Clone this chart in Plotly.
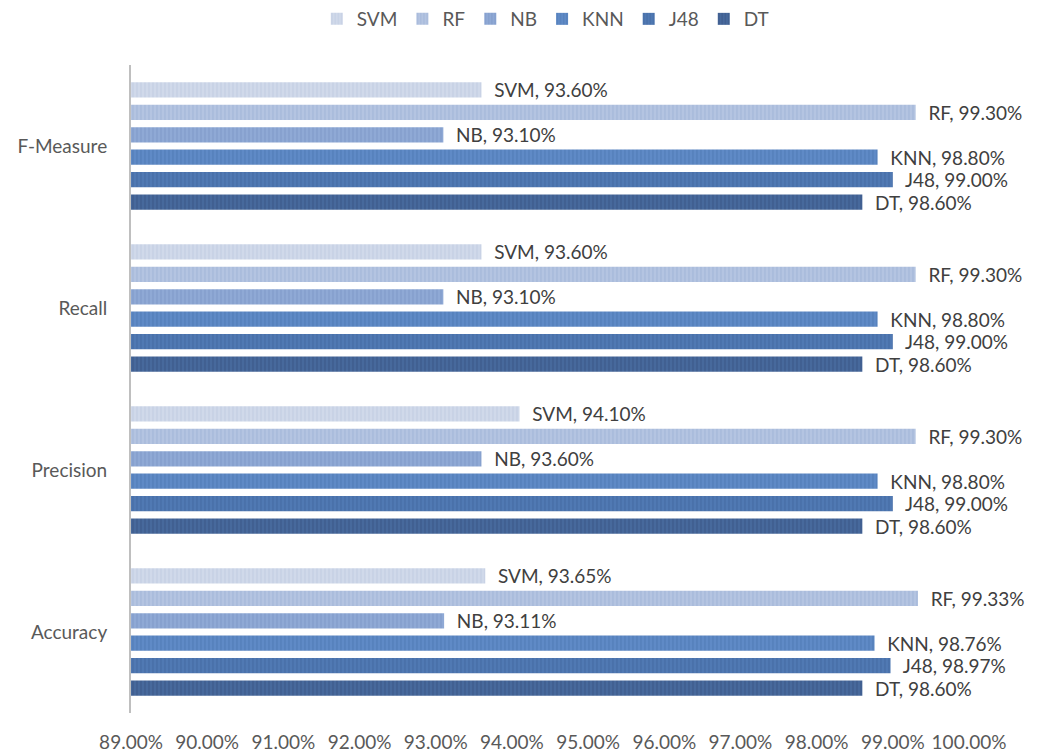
import plotly.graph_objects as go

categories = ["Accuracy", "Precision", "Recall", "F-Measure"]
models = ["DT", "J48", "KNN", "NB", "RF", "SVM"]
values = {
    "DT":  [98.60, 98.60, 98.60, 98.60],
    "J48": [98.97, 99.00, 99.00, 99.00],
    "KNN": [98.76, 98.80, 98.80, 98.80],
    "NB":  [93.11, 93.60, 93.10, 93.10],
    "RF":  [99.33, 99.30, 99.30, 99.30],
    "SVM": [93.65, 94.10, 93.60, 93.60],
}
tick_vals = [89, 90, 91, 92, 93, 94, 95, 96, 97, 98, 99, 100]
tick_text = ["%.2f%%" % v for v in tick_vals]

colors = {
    "DT": "#47699c", "J48": "#5079b3", "KNN": "#5f8ac6",
    "NB": "#8fa9d5", "RF": "#b4c4e1", "SVM": "#d0d9ea",
}
stripe = {
    "DT": "#34507c", "J48": "#3d6299", "KNN": "#4a74ae",
    "NB": "#7792c2", "RF": "#9aaed3", "SVM": "#bac7df",
}

FONT = "Lato, Open Sans, sans-serif"
pad = "\u00a0\u00a0"

fig = go.Figure()
for m in models:
    fig.add_trace(go.Bar(
        y=categories, x=values[m], name=m, orientation="h",
        marker=dict(color=colors[m], line=dict(width=0),
                    pattern=dict(shape="|", fgcolor=stripe[m], bgcolor=colors[m],
                                 size=4, solidity=0.35)),
        text=["%s%s, %.2f%%" % (pad, m, v) for v in values[m]],
        textposition="outside", constraintext="none", cliponaxis=False,
        textfont=dict(family=FONT, size=19, color="#404040"),
    ))

fig.update_layout(
    width=1046, height=754,
    margin=dict(l=131, r=77, t=65, b=41),
    paper_bgcolor="white", plot_bgcolor="white",
    barmode="group", bargap=0.17, bargroupgap=0.32,
    showlegend=True,
    legend=dict(orientation="h", traceorder="reversed", x=0.495, xanchor="center",
                y=1.0, yref="container", yanchor="top",
                font=dict(family=FONT, size=19, color="#595959"),
                itemwidth=30),
    font=dict(family=FONT, color="#595959"),
)
fig.update_xaxes(range=[89, 100], tickvals=tick_vals, ticktext=tick_text,
                 showgrid=False, zeroline=False, showline=False, automargin=False,
                 tickfont=dict(size=19, color="#595959"), ticklabelstandoff=16)
fig.update_yaxes(showgrid=False, showline=True, linecolor="#bfbfbf", linewidth=2,
                 automargin=False, ticks="",
                 tickfont=dict(size=19, color="#595959"), ticklabelstandoff=18)

fig.write_html("out.html")
